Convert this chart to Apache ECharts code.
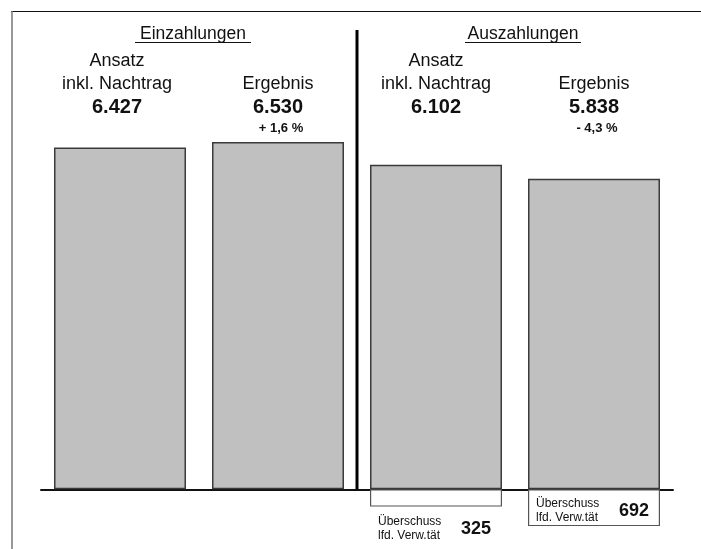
<!DOCTYPE html>
<html lang="de">
<head>
    <meta charset="UTF-8">
    <title>Einzahlungen / Auszahlungen</title>
    <script src="https://cdn.jsdelivr.net/npm/echarts@6/dist/echarts.min.js"></script>
    <style type="text/css">
        html, body {
            margin: 0;
            width: 100%;
            height: 100%;
            background: #ffffff;
        }
        #chart {
            width: 701px;
            height: 549px;
        }
    </style>
</head>
<body>
    <div id="chart"></div>
    <script type="text/javascript">
        // Daten
        var categories = ['Einz. Ansatz', 'Einz. Ergebnis', 'Ausz. Ansatz', 'Ausz. Ergebnis'];
        var headLabels = ['Ansatz\ninkl. Nachtrag', 'Ergebnis', 'Ansatz\ninkl. Nachtrag', 'Ergebnis'];
        var amounts = [6427, 6530, 6102, 5838];
        var changeLabels = ['', '+ 1,6 %', '', '- 4,3 %'];
        var surplus = [null, null, 325, 692];
        var surplusLabel = 'Überschuss\nlfd. Verw.tät';
        var groupTitles = ['Einzahlungen', 'Auszahlungen'];

        var FONT = '"Liberation Sans", Arial, sans-serif';

        function fmt(v) {
            if (v < 1000) return String(v);
            return Math.floor(v / 1000) + '.' + String(v % 1000).padStart(3, '0');
        }

        var chart = echarts.init(document.getElementById('chart'));

        var option = {
            animation: false,
            backgroundColor: '#ffffff',
            grid: {
                left: 41,
                right: 28,
                top: 117,
                bottom: 6.5
            },
            xAxis: {
                type: 'category',
                data: categories,
                axisTick: { show: false },
                axisLabel: { show: false },
                axisLine: {
                    onZero: true,
                    lineStyle: { color: '#111', width: 2 }
                }
            },
            yAxis: {
                type: 'value',
                min: -1000,
                max: 7000,
                show: false,
                splitLine: { show: false }
            },
            series: [
                {
                    name: 'Betrag',
                    type: 'bar',
                    data: amounts,
                    barWidth: 132,
                    barGap: '-100%',
                    itemStyle: {
                        color: '#c0c0c0',
                        borderColor: '#3a3a3a',
                        borderWidth: 1.5
                    }
                },
                {
                    name: 'Überschuss',
                    type: 'bar',
                    data: surplus.map(function (v) { return v == null ? null : -v; }),
                    barWidth: 132,
                    barGap: '-100%',
                    itemStyle: {
                        color: '#ffffff',
                        borderColor: '#555',
                        borderWidth: 1.2
                    }
                }
            ]
        };
        chart.setOption(option);

        // Texte und Linien
        var g = [];
        var base = chart.convertToPixel({ gridIndex: 0 }, [0, 0])[1];
        var cx = categories.map(function (c, i) {
            return chart.convertToPixel({ xAxisIndex: 0 }, i);
        });

        // Rahmen
        g.push({ type: 'line', shape: { x1: 11, y1: 11.5, x2: 701, y2: 11.5 }, style: { stroke: '#111', lineWidth: 1.2 } });
        g.push({ type: 'line', shape: { x1: 12, y1: 11, x2: 12, y2: 549 }, style: { stroke: '#777', lineWidth: 1.5 } });

        // Trennlinie
        var divX = (cx[1] + cx[2]) / 2;
        g.push({ type: 'line', shape: { x1: divX, y1: 30, x2: divX, y2: base }, style: { stroke: '#000', lineWidth: 3 } });

        // Gruppentitel (unterstrichen)
        var titleX = [(cx[0] + cx[1]) / 2 - 6, (cx[2] + cx[3]) / 2 + 8];
        groupTitles.forEach(function (t, i) {
            g.push({
                type: 'text', x: titleX[i], y: 34,
                style: { text: t, font: '17.5px ' + FONT, fill: '#111', align: 'center', verticalAlign: 'middle' }
            });
            g.push({
                type: 'line', shape: { x1: titleX[i] - 58, y1: 42.5, x2: titleX[i] + 58, y2: 42.5 },
                style: { stroke: '#111', lineWidth: 1 }
            });
        });

        categories.forEach(function (c, i) {
            var x = cx[i] - (i === 0 ? 3 : 0);
            g.push({
                type: 'text', x: x, y: 96,
                style: { text: headLabels[i], font: '18px ' + FONT, lineHeight: 23, fill: '#111', align: 'center', verticalAlign: 'bottom' }
            });
            g.push({
                type: 'text', x: x, y: 107,
                style: { text: fmt(amounts[i]), font: 'bold 20px ' + FONT, fill: '#111', align: 'center', verticalAlign: 'middle' }
            });
            if (changeLabels[i]) {
                g.push({
                    type: 'text', x: x + 3, y: 128,
                    style: { text: changeLabels[i], font: 'bold 13px ' + FONT, fill: '#111', align: 'center', verticalAlign: 'middle' }
                });
            }
            if (surplus[i] != null) {
                var left = cx[i] - 66;
                var bottom = chart.convertToPixel({ gridIndex: 0 }, [i, -surplus[i]])[1];
                var boxH = bottom - base;
                var cy = boxH > 30 ? base + boxH / 2 + 3 : bottom + 22;
                g.push({
                    type: 'text', x: left + 8, y: cy,
                    style: { text: surplusLabel, font: '12px ' + FONT, lineHeight: 14, fill: '#111', align: 'left', verticalAlign: 'middle' }
                });
                g.push({
                    type: 'text', x: left + 91, y: cy,
                    style: { text: fmt(surplus[i]), font: 'bold 18px ' + FONT, fill: '#111', align: 'left', verticalAlign: 'middle' }
                });
            }
        });

        g.forEach(function (el) { el.z = 100; });
        chart.setOption({ graphic: g });
    </script>
</body>
</html>
